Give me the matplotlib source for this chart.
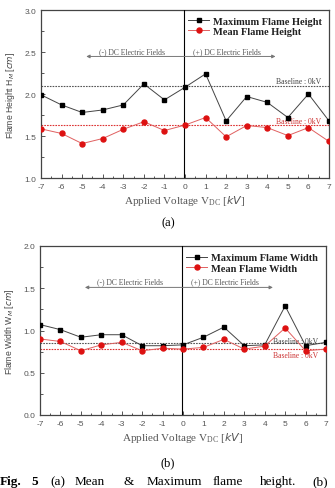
import matplotlib
matplotlib.use("Agg")
import matplotlib.pyplot as plt
from matplotlib.ticker import MultipleLocator

plt.rcParams["axes.unicode_minus"] = False

voltage = [-7, -6, -5, -4, -3, -2, -1, 0, 1, 2, 3, 4, 5, 6, 7]
max_height = [1.99, 1.87, 1.78, 1.81, 1.87, 2.12, 1.93, 2.08, 2.24, 1.68, 1.97, 1.90, 1.72, 2.00, 1.68]
mean_height = [1.585, 1.53, 1.41, 1.47, 1.58, 1.67, 1.565, 1.63, 1.72, 1.49, 1.625, 1.60, 1.505, 1.60, 1.435]
max_width = [1.07, 1.01, 0.92, 0.95, 0.95, 0.82, 0.82, 0.83, 0.92, 1.04, 0.82, 0.83, 1.29, 0.82, 0.86]
mean_width = [0.90, 0.87, 0.76, 0.83, 0.86, 0.76, 0.79, 0.78, 0.80, 0.895, 0.78, 0.815, 1.03, 0.76, 0.78]
baseline_height = [2.09, 1.63]
baseline_width = [0.85, 0.78]
xticks = [-7, -6, -5, -4, -3, -2, -1, 0, 1, 2, 3, 4, 5, 6, 7]

W, H = 335, 489
fig = plt.figure(figsize=(W / 100, H / 100), dpi=100)

SERIF = "Liberation Serif"
SANS = "Liberation Sans"
GRAY = "#555555"


def px_axes(l, r, t, b):
    return fig.add_axes([l / W, (H - b) / H, (r - l) / W, (b - t) / H])


def setup(ax, ylim, ymajor, ylabel, maxs, means, maxlab, meanlab, base, arrow_y, text_y,
          base_text_y, legend_y):
    ax.plot(voltage, maxs, color="#444444", lw=0.7, marker="s", ms=3.2,
            mfc="black", mec="black", label=maxlab, zorder=4)
    ax.plot(voltage, means, color="#e06060", lw=0.7, marker="o", ms=3.6,
            mfc="#dd1111", mec="#dd1111", label=meanlab, zorder=4)
    ax.axhline(base[0], color="#555555", lw=0.8, ls=(0, (1.5, 1)), zorder=2)
    ax.axhline(base[1], color="#dd3333", lw=0.8, ls=(0, (1.5, 1)), zorder=2)
    ax.axvline(-0.05, color="black", lw=0.8, zorder=3)
    ax.set_xlim(-7, 7)
    ax.set_ylim(*ylim)
    ax.set_xticks(xticks)
    ax.xaxis.set_minor_locator(MultipleLocator(0.5))
    ax.yaxis.set_major_locator(MultipleLocator(ymajor))
    ax.yaxis.set_minor_locator(MultipleLocator(ymajor / 2))
    ax.tick_params(which="both", direction="in", colors=GRAY, labelsize=6,
                   labelcolor="#555555", width=0.7)
    ax.tick_params(which="major", length=3)
    ax.tick_params(which="minor", length=1.8)
    ax.yaxis.set_major_formatter(matplotlib.ticker.FormatStrFormatter("%.1f"))
    for lab in ax.get_xticklabels() + ax.get_yticklabels():
        lab.set_family(SANS)
    for s in ax.spines.values():
        s.set_color("#444444")
        s.set_linewidth(0.9)
    ax.set_xlabel(r"Applied Voltage V$_{\mathregular{DC}}$ [$kV$]", family=SERIF,
                  fontsize=8, color="#555555", labelpad=2)
    ax.set_ylabel(ylabel, family=SANS, fontsize=6.2, color="#444444", labelpad=5)
    ax.annotate("", xy=(-4.8, arrow_y), xytext=(4.4, arrow_y),
                arrowprops=dict(arrowstyle="<|-|>", color="#777777", lw=0.7,
                                mutation_scale=5, shrinkA=0, shrinkB=0))
    ax.text(-2.6, text_y, "(-) DC Electric Fields", family=SERIF, fontsize=5.5,
            color="#555555", ha="center", va="center")
    ax.text(2.05, text_y, "(+) DC Electric Fields", family=SERIF, fontsize=5.5,
            color="#555555", ha="center", va="center")
    ax.text(5.5, base_text_y[0], "Baseline : 0kV", family=SERIF, fontsize=5.5,
            color="#444444", ha="center", va="center")
    ax.text(5.5, base_text_y[1], "Baseline : 0kV", family=SERIF, fontsize=5.5,
            color="#cc3333", ha="center", va="center")
    leg = ax.legend(loc="upper left", bbox_to_anchor=(0.49, legend_y), frameon=False,
                    prop={"family": SERIF, "weight": "bold", "size": 7.5},
                    handlelength=2.0, handletextpad=0.4, labelspacing=0.1,
                    borderaxespad=0.2)
    for t in leg.get_texts():
        t.set_color("#222222")


ax1 = px_axes(41, 329, 11, 179)
setup(ax1, (1.0, 3.0), 0.5, r"Flame Height H$_M$ [$cm$]", max_height, mean_height,
      "Maximum Flame Height", "Mean Flame Height", baseline_height, 2.447, 2.51,
      (2.16, 1.68), 1.0)

ax2 = px_axes(40, 326, 247, 416)
setup(ax2, (0.0, 2.0), 0.5, r"Flame Width W$_M$ [$cm$]", max_width, mean_width,
      "Maximum Flame Width", "Mean Flame Width", baseline_width, 1.51, 1.585,
      (0.88, 0.71), 0.995)

fig.text(168 / W, 1 - 223 / H, "(a)", family=SERIF, fontsize=9, ha="center", va="center")
fig.text(168 / W, 1 - 463 / H, "(b)", family=SERIF, fontsize=9, ha="center", va="center")

caption_words = ["Fig.", "5", "(a)", "Mean", "&", "Maximum", "flame", "height.", "(b)"]
caption_x = [0, 31, 50, 75, 123, 147, 213, 260, 312]
caption_bold = [True, True, False, False, False, False, False, False, False]
for w, x, b in zip(caption_words, caption_x, caption_bold):
    fig.text(x / W, 1 - 482 / H, w, family=SERIF, fontsize=9.5,
             weight="bold" if b else "normal", ha="left", va="center")

fig.savefig("out.png", dpi=100)
